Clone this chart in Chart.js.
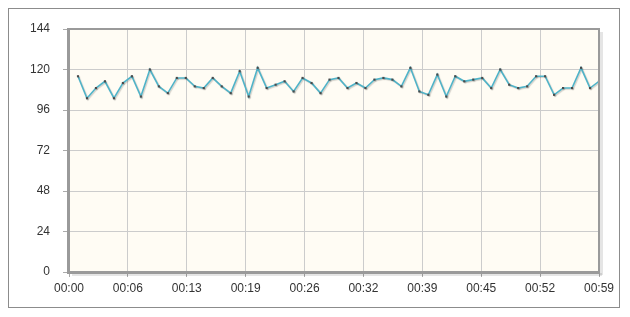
<!DOCTYPE html>
<html>
<head>
<meta charset="utf-8">
<script src="https://cdn.jsdelivr.net/npm/chart.js@4/dist/chart.umd.min.js"></script>
<style>
    html, body { margin: 0; padding: 0; background: #fff; }
    #wrap { position: relative; width: 630px; height: 317px; }
    #frame { position: absolute; left: 8px; top: 8px; width: 610px; height: 298px; border: 1px solid #8c8c8c; }
    #chart { position: absolute; left: 0; top: 0; }
</style>
</head>
<body>
<div id="wrap">
    <div id="frame"></div>
    <canvas id="chart" width="630" height="317"></canvas>
</div>
<script>
// 每分钟数值 (00:01 - 00:59)
const values = [116, 103, 109, 113, 103, 112, 116, 104, 120, 110,
                106, 115, 115, 110, 109, 115, 110, 106, 119, 104,
                121, 109, 111, 113, 107, 115, 112, 106, 114, 115,
                109, 112, 109, 114, 115, 114, 110, 121, 107, 105,
                117, 104, 116, 113, 114, 115, 109, 120, 111, 109,
                110, 116, 116, 105, 109, 109, 121, 109, 113];
const firstMinute = 1;
const minutes = values.map((v, i) => firstMinute + i);

// 坐标轴刻度
const xMin = 0;
const xMax = 59;
const xTickCount = 10;
const yTicks = [0, 24, 48, 72, 96, 120, 144];

// 绘图区背景和边框
const plotFrame = {
    id: 'plotFrame',
    beforeDraw(chart) {
        const a = chart.chartArea;
        const ctx = chart.ctx;
        ctx.save();
        ctx.fillStyle = '#fffcf4';
        ctx.fillRect(a.left, a.top, a.right - a.left, a.bottom - a.top);
        ctx.restore();
    },
    afterDraw(chart) {
        const a = chart.chartArea;
        const ctx = chart.ctx;
        ctx.save();
        // 阴影
        ctx.fillStyle = 'rgba(0,0,0,0.10)';
        ctx.fillRect(a.right + 1, a.top + 3, 3, a.bottom - a.top);
        ctx.fillRect(a.left + 3, a.bottom + 1, a.right - a.left, 3);
        ctx.strokeStyle = '#9a9a9a';
        ctx.lineWidth = 2;
        ctx.strokeRect(a.left, a.top, a.right - a.left, a.bottom - a.top);
        ctx.lineWidth = 3;
        ctx.beginPath();
        ctx.moveTo(a.left - 0.5, a.top - 1);
        ctx.lineTo(a.left - 0.5, a.bottom + 0.5);
        ctx.lineTo(a.right + 1, a.bottom + 0.5);
        ctx.stroke();
        ctx.restore();
    }
};

// 折线阴影
const lineShadow = {
    id: 'lineShadow',
    beforeDatasetDraw(chart) {
        const ctx = chart.ctx;
        ctx.save();
        ctx.shadowColor = 'rgba(0,0,0,0.18)';
        ctx.shadowOffsetX = 1;
        ctx.shadowOffsetY = 1;
        ctx.shadowBlur = 1;
    },
    afterDatasetDraw(chart) {
        chart.ctx.restore();
    }
};

function pad2(n) {
    return String(n).padStart(2, '0');
}

const ctx = document.getElementById('chart').getContext('2d');
const chart = new Chart(ctx, {
    type: 'line',
    data: {
        datasets: [{
            data: minutes.map((m, i) => ({ x: m, y: values[i] })),
            borderColor: '#4fb3c8',
            borderWidth: 1.6,
            tension: 0,
            fill: false,
            pointStyle: 'rect',
            pointRadius: 1.5,
            pointBackgroundColor: '#4a4a4a',
            pointBorderWidth: 0
        }]
    },
    options: {
        responsive: false,
        animation: false,
        layout: {
            padding: { left: 0, top: 29, right: 31, bottom: 0 }
        },
        plugins: {
            legend: { display: false },
            tooltip: { enabled: false }
        },
        scales: {
            x: {
                type: 'linear',
                min: xMin,
                max: xMax,
                afterBuildTicks: function(scale) {
                    const ticks = [];
                    for (let i = 0; i < xTickCount; i++) {
                        ticks.push({ value: xMin + i * (xMax - xMin) / (xTickCount - 1) });
                    }
                    scale.ticks = ticks;
                },
                afterFit: function(scale) { scale.height = 45; },
                grid: {
                    color: '#cccccc',
                    lineWidth: 1,
                    tickLength: 5,
                    tickColor: '#aaaaaa'
                },
                border: { display: false },
                ticks: {
                    autoSkip: false,
                    maxRotation: 0,
                    padding: 4,
                    color: '#333333',
                    font: { family: 'Arial, "Liberation Sans", sans-serif', size: 12 },
                    callback: function(v) { return '00:' + pad2(Math.floor(v + 1e-6)); }
                }
            },
            y: {
                min: 0,
                max: 144,
                afterBuildTicks: function(scale) {
                    scale.ticks = yTicks.map(v => ({ value: v }));
                },
                afterFit: function(scale) { scale.width = 69; },
                grid: {
                    color: '#cccccc',
                    lineWidth: 1,
                    tickLength: 6,
                    tickColor: '#aaaaaa'
                },
                border: { display: false },
                ticks: {
                    padding: 13,
                    color: '#333333',
                    font: { family: 'Arial, "Liberation Sans", sans-serif', size: 12 }
                }
            }
        }
    },
    plugins: [plotFrame, lineShadow]
});
</script>
</body>
</html>
